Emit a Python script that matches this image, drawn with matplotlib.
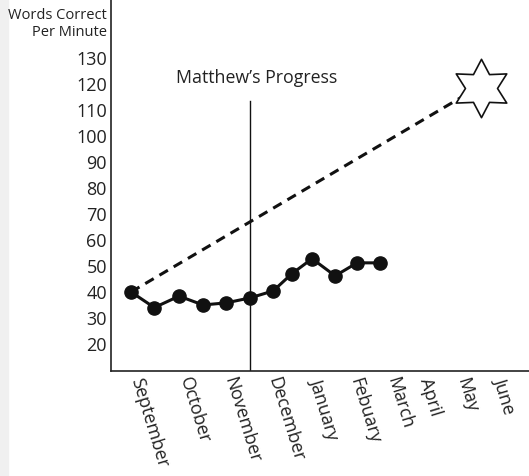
import matplotlib.pyplot as plt
from matplotlib.path import Path
from matplotlib.patches import Rectangle

plt.rcParams['font.family'] = ['Open Sans', 'DejaVu Sans']

# weekly readings (x in sessions since September)
session_x = [0, 1.0, 2.06, 3.09, 4.08, 5.1, 6.1, 6.9, 7.77, 8.76, 9.7, 10.7]
wcpm = [40, 34, 38.4, 35, 35.8, 37.7, 40.4, 47, 52.8, 46.2, 51.2, 51.2]

# aim line and goal
aim_x = [0, 14.2]
aim_y = [40, 115]
goal_x = 15.0
goal_y = 118.5
phase_x = 5.1

months = ["September", "October", "November", "December", "January",
          "Febuary", "March", "April", "May", "June"]
month_pos = [0.2, 2.3, 4.2, 6.1, 7.9, 9.6, 11.2, 12.6, 14.2, 15.8]
yticks = [20, 30, 40, 50, 60, 70, 80, 90, 100, 110, 120, 130]

fig = plt.figure(figsize=(5.29, 4.76), dpi=100)
fig.patches.append(Rectangle((0, 0), 8 / 529, 1, transform=fig.transFigure,
                             color="#f0f0f0", zorder=0))
ax = fig.add_axes([111 / 529, 105 / 476, 1 - 111 / 529, 371 / 476])

ax.plot(aim_x, aim_y, color="#111111", lw=2.2, ls=(0, (3.2, 2.2)))
ax.plot(session_x, wcpm, color="#111111", lw=2.2, marker="o", ms=9.5)
star = Path.unit_regular_star(6, 0.55)
ax.plot([goal_x], [goal_y], marker=star, ms=42, mfc="white", mec="#111111", mew=1.2)

ax.plot([phase_x, phase_x], [0, 113.5], color="#111111", lw=1.0)
ax.text(5.4, 122.3, "Matthew\u2019s Progress", ha="center", va="center",
        fontsize=12.8, color="#222222")

ax.set_xlim(-0.86, 17.08)
ax.set_ylim(9.6, 152.3)
ax.set_yticks(yticks)
ax.set_yticklabels([str(v) for v in yticks], fontsize=13, color="#222222")
ax.set_xticks(month_pos)
ax.set_xticklabels(months, rotation=-73, ha="left", va="center",
                   rotation_mode="anchor", fontsize=13, color="#222222")
ax.tick_params(length=0, pad=3)
ax.tick_params(axis="x", pad=5)
for s in ["top", "right"]:
    ax.spines[s].set_visible(False)
for s in ["left", "bottom"]:
    ax.spines[s].set_linewidth(1.2)
    ax.spines[s].set_color("#222222")

fig.text(107 / 529, 1 - 24 / 476, "Words Correct\nPer Minute", ha="right",
         va="center", fontsize=10.5, color="#222222", linespacing=1.15)

fig.savefig("out.png", dpi=100)
